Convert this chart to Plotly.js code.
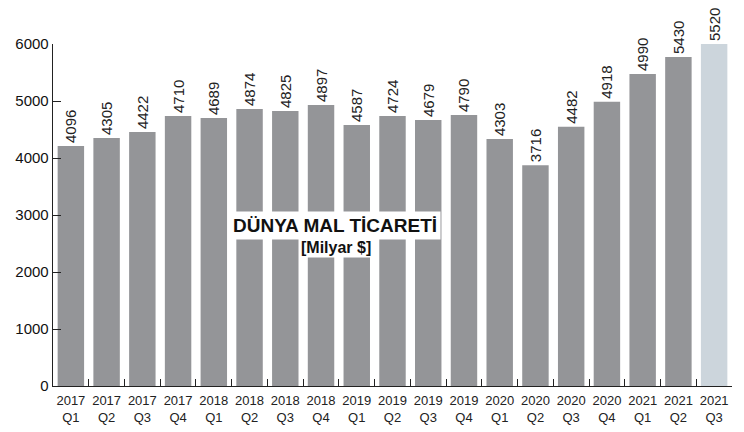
<!DOCTYPE html>
<html>
<head>
<meta charset="utf-8">
<script src="https://cdn.plot.ly/plotly-3.0.1.min.js"></script>
<style>html,body{margin:0;padding:0;background:#fff;}#chart{width:744px;height:432px;}</style>
</head>
<body>
<div id="chart"></div>
<script>
// Quarter categories (x tick labels)
var years = ["2017","2017","2017","2017","2018","2018","2018","2018","2019","2019","2019","2019","2020","2020","2020","2020","2021","2021","2021"];
var quarters = ["Q1","Q2","Q3","Q4","Q1","Q2","Q3","Q4","Q1","Q2","Q3","Q4","Q1","Q2","Q3","Q4","Q1","Q2","Q3"];
// Value labels printed above each bar (billion $)
var valueLabels = [4096,4305,4422,4710,4689,4874,4825,4897,4587,4724,4679,4790,4303,3716,4482,4918,4990,5430,5520];
// Bar heights as drawn in the picture (read on the 0–6000 axis)
var barHeights = [4210,4350,4455,4736,4700,4860,4825,4930,4578,4736,4666,4753,4332,3875,4548,4987,5473,5772,6000];
var yTicks = [0,1000,2000,3000,4000,5000,6000];

var cats = years.map(function(y,i){ return y + "<br>" + quarters[i]; });
var colors = cats.map(function(c,i){ return i === cats.length-1 ? "#ccd5dc" : "#949598"; });

var sans = "'Liberation Sans', Arial, Helvetica, sans-serif";

var trace = {
  type: "bar",
  x: cats,
  y: barHeights,
  text: valueLabels.map(String),
  textposition: "outside",
  textangle: -90,
  constraintext: "none",
  cliponaxis: false,
  textfont: {family: sans, size: 15, color: "#222"},
  marker: {color: colors, line: {width: 0}},
  hoverinfo: "skip"
};

var layout = {
  width: 744, height: 432,
  margin: {l: 53, r: 12, t: 44, b: 46, pad: 0},
  paper_bgcolor: "#fff", plot_bgcolor: "#fff",
  showlegend: false,
  bargap: 0.26,
  xaxis: {
    type: "category",
    showline: true, linecolor: "#222", linewidth: 1.3,
    ticks: "inside", tickson: "boundaries", ticklen: 7, tickcolor: "#222", tickwidth: 1,
    ticklabelstandoff: 2,
    showgrid: false, zeroline: false,
    tickfont: {family: sans, size: 13, color: "#222"},
    tickangle: 0,
    fixedrange: true
  },
  yaxis: {
    range: [0, 6000],
    tickvals: yTicks,
    ticktext: yTicks.map(String),
    showline: true, linecolor: "#222", linewidth: 1.3,
    ticks: "inside", ticklen: 8, tickcolor: "#222", tickwidth: 1,
    ticklabelstandoff: 0,
    showgrid: false, zeroline: false,
    tickfont: {family: sans, size: 15, color: "#111"},
    fixedrange: true
  },
  annotations: [
    {
      xref: "paper", yref: "paper", x: 0.415, y: 0.468,
      xanchor: "center", yanchor: "middle",
      text: "<b>DÜNYA MAL TİCARETİ</b>",
      showarrow: false, bgcolor: "#fff", borderpad: 3,
      font: {family: sans, size: 19, color: "#111"}
    },
    {
      xref: "paper", yref: "paper", x: 0.417, y: 0.405,
      xanchor: "center", yanchor: "middle",
      text: "<b>[Milyar $]</b>",
      showarrow: false, bgcolor: "#fff", borderpad: 1,
      font: {family: sans, size: 16, color: "#111"}
    }
  ]
};

Plotly.newPlot("chart", [trace], layout, {displayModeBar: false, staticPlot: true});
</script>
</body>
</html>
